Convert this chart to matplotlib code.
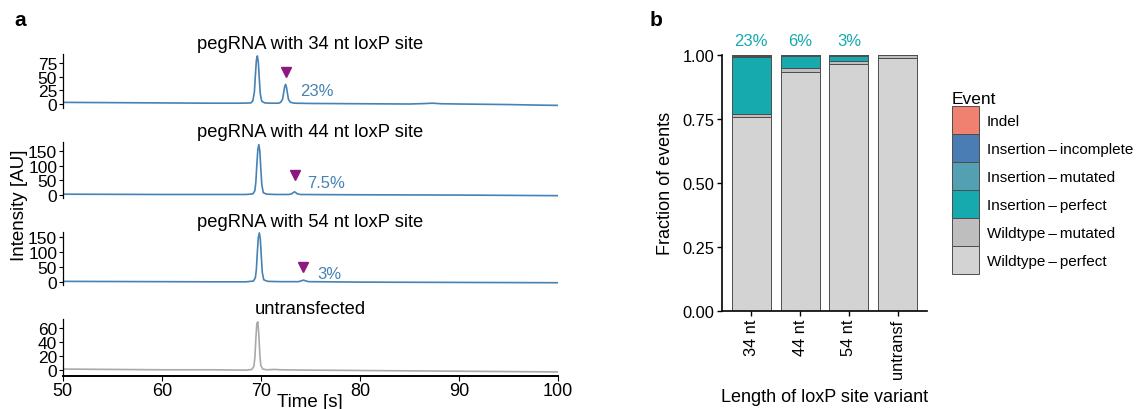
"""Capillary electrophoresis traces and loxP insertion outcome fractions."""

import matplotlib

matplotlib.use("Agg")
import matplotlib.pyplot as plt
from matplotlib.patches import Patch

plt.rcParams["font.family"] = ["Liberation Sans", "DejaVu Sans"]

W, H = 1140, 410

# ---- panel a: traces (time in s, intensity in AU) ----
trace_titles = [
    "pegRNA with 34 nt loxP site",
    "pegRNA with 44 nt loxP site",
    "pegRNA with 54 nt loxP site",
    "untransfected",
]

t_34 = [50, 55, 60, 65, 68, 69.0, 69.2, 69.35, 69.45, 69.55, 69.65, 69.75, 69.85,
        69.95, 70.1, 70.4, 71.0, 71.8, 72.0, 72.2, 72.3, 72.4, 72.5, 72.6, 72.7,
        72.8, 73.0, 73.4, 75, 80, 85, 86.5, 87.3, 88.2, 90, 95, 98, 100]
i_34 = [3, 2.5, 2, 1.5, 1.5, 2, 6, 22, 52, 80, 88, 76, 45,
        18, 5, 2, 1.5, 1.5, 3, 9, 20, 31, 36, 30, 18,
        8, 3, 1.5, 1, 0.5, 0, 0.8, 1.5, 0.5, 0, -1, -2, -2.5]

t_44 = [50, 55, 60, 65, 68.5, 69.2, 69.4, 69.5, 69.6, 69.7, 69.8, 69.9, 70.0,
        70.1, 70.25, 70.6, 71.5, 72.8, 73.1, 73.3, 73.4, 73.5, 73.7, 74.0, 76,
        80, 85, 90, 95, 100]
i_44 = [3, 2.5, 2, 2, 2, 4, 15, 45, 105, 155, 172, 150, 90,
        35, 8, 3, 2, 2, 4, 9, 11, 9, 4, 2, 1.5,
        1, 0.5, 0, -1, -2]

t_54 = [50, 55, 60, 65, 68.5, 69.25, 69.45, 69.55, 69.65, 69.75, 69.85, 69.95,
        70.05, 70.15, 70.3, 70.7, 72, 73.8, 74.1, 74.3, 74.5, 74.8, 77, 80, 85,
        90, 95, 100]
i_54 = [3, 2.5, 2, 1.5, 1.5, 4, 15, 42, 100, 148, 163, 142,
        85, 32, 8, 3, 2, 2, 5, 7, 5, 2, 1.5, 0.5, 0,
        -0.5, -1, -1.5]

t_untr = [50, 55, 60, 65, 68.5, 69.1, 69.3, 69.4, 69.5, 69.6, 69.7, 69.8, 69.9,
          70.0, 70.2, 70.6, 71.4, 72, 75, 80, 85, 90, 95, 100]
i_untr = [2, 1.5, 1, 1, 0.5, 1.5, 6, 18, 45, 66, 68, 50, 22,
          7, 2, 1, 1.5, 1, 0.5, 0, -0.5, -1, -1.5, -2]

trace_times = [t_34, t_44, t_54, t_untr]
trace_values = [i_34, i_44, i_54, i_untr]
trace_colors = ["#4682B4", "#4682B4", "#4682B4", "#A9A9A9"]

y_ticks = [[0, 25, 50, 75], [0, 50, 100, 150], [0, 50, 100, 150], [0, 20, 40, 60]]
y_limits = [(-7.3, 91.5), (-10, 182), (-9, 166), (-7.7, 72)]

arrow_x = [72.5, 73.4, 74.3, None]
arrow_y = [58, 69, 50, None]
peak_label = ["23%", "7.5%", "3%", None]
peak_label_x = [74.0, 74.7, 75.7, None]
peak_label_y = [24, 44, 30, None]

# ---- panel b: fraction of events ----
variants = ["34 nt", "44 nt", "54 nt", "untransf"]
events = [
    "Indel",
    "Insertion\u2009–\u2009incomplete",
    "Insertion\u2009–\u2009mutated",
    "Insertion\u2009–\u2009perfect",
    "Wildtype\u2009–\u2009mutated",
    "Wildtype\u2009–\u2009perfect",
]
event_colors = ["#F08070", "#4A7DB4", "#52A0B2", "#16A9AD", "#BEBEBE", "#D3D3D3"]

wt_perfect = [0.758, 0.932, 0.963, 0.987]
wt_mutated = [0.011, 0.016, 0.012, 0.013]
ins_perfect = [0.222, 0.049, 0.022, 0.0]
ins_mutated = [0.006, 0.002, 0.002, 0.0]
ins_incomplete = [0.003, 0.001, 0.001, 0.0]
indel = [0.0, 0.0, 0.0, 0.0]
insertion_pct = ["23%", "6%", "3%", ""]


def px_axes(fig, left, top, right, bottom):
    return fig.add_axes([left / W, 1 - bottom / H, (right - left) / W, (bottom - top) / H])


def main() -> None:
    fig = plt.figure(figsize=(W / 100, H / 100), dpi=100)

    rects = [(62.7, 55, 558, 109), (62.7, 142.7, 558, 199),
             (62.7, 233, 558, 286), (62.7, 320, 558, 377)]
    for k, r in enumerate(rects):
        ax = px_axes(fig, *r)
        ax.plot(trace_times[k], trace_values[k], color=trace_colors[k], lw=1.2)
        ax.set_xlim(50, 100)
        ax.set_ylim(*y_limits[k])
        ax.set_yticks(y_ticks[k])
        ax.tick_params(axis="y", labelsize=12.5, length=3, width=0.8, pad=1)
        for s in ("top", "right"):
            ax.spines[s].set_visible(False)
        ax.spines["left"].set_linewidth(0.9)
        ax.set_title(trace_titles[k], fontsize=13.2, pad=4)
        if arrow_x[k] is not None:
            ax.plot([arrow_x[k]], [arrow_y[k]], marker="v", ms=7, color="#8B1A80",
                    ls="none")
            ax.text(peak_label_x[k], peak_label_y[k], peak_label[k], color="#4682B4",
                    fontsize=12, va="center", ha="left")
        if k < 3:
            ax.spines["bottom"].set_visible(False)
            ax.set_xticks([])
        else:
            ax.spines["bottom"].set_linewidth(1.4)
            ax.set_xticks([50, 60, 70, 80, 90, 100])
            ax.tick_params(axis="x", labelsize=13, length=3.5, width=0.8, pad=1)

    fig.text(310 / W, 1 - 403 / H, "Time [s]", fontsize=13.5, ha="center", va="center")
    fig.text(20 / W, 1 - 205 / H, "Intensity [AU]", rotation=90, fontsize=13.5,
             ha="center", va="center")
    fig.text(14 / W, 1 - 20 / H, "a", fontsize=15, fontweight="bold",
             ha="left", va="center")
    fig.text(650 / W, 1 - 20 / H, "b", fontsize=15, fontweight="bold",
             ha="left", va="center")

    # ---- panel b ----
    axb = px_axes(fig, 722, 56, 927, 311.7)
    xs = list(range(1, len(variants) + 1))
    stack = [wt_perfect, wt_mutated, ins_perfect, ins_mutated, ins_incomplete, indel]
    stack_colors = event_colors[::-1]
    bottom = [0.0] * len(variants)
    for vals, col in zip(stack, stack_colors):
        axb.bar(xs, vals, bottom=bottom, width=0.8, color=col, edgecolor="#4D4D4D",
                linewidth=0.7)
        bottom = [b + v for b, v in zip(bottom, vals)]
    for x, lab in zip(xs, insertion_pct):
        axb.text(x, 1.058, lab, ha="center", va="center", color="#16A9AD",
                 fontsize=12, clip_on=False)
    axb.set_xlim(0.4, 4.6)
    axb.set_ylim(0, 1)
    axb.set_xticks(xs)
    axb.set_xticklabels(variants, rotation=90)
    axb.set_yticks([0, 0.25, 0.5, 0.75, 1.0])
    axb.set_yticklabels(["0.00", "0.25", "0.50", "0.75", "1.00"])
    axb.tick_params(labelsize=11.8, length=3.5, width=1, pad=2)
    for s in ("top", "right"):
        axb.spines[s].set_visible(False)
    axb.spines["left"].set_linewidth(1.2)
    axb.spines["bottom"].set_linewidth(1.2)
    axb.set_ylabel("Fraction of events", fontsize=13, labelpad=6)
    fig.text(825 / W, 1 - 398 / H, "Length of loxP site variant", fontsize=13,
             ha="center", va="center")

    handles = [Patch(facecolor=c, edgecolor="#4D4D4D", linewidth=0.7)
               for c in event_colors]
    fig.legend(handles, events, loc="upper left",
               bbox_to_anchor=(946 / W, 1 - 86 / H), frameon=False,
               fontsize=11, title="Event", title_fontsize=12.5, alignment="left",
               handlelength=1.77, handleheight=2.44, labelspacing=0,
               handletextpad=0.5, borderaxespad=0)

    fig.savefig("out.png", dpi=100)
    plt.close(fig)


if __name__ == "__main__":
    main()
